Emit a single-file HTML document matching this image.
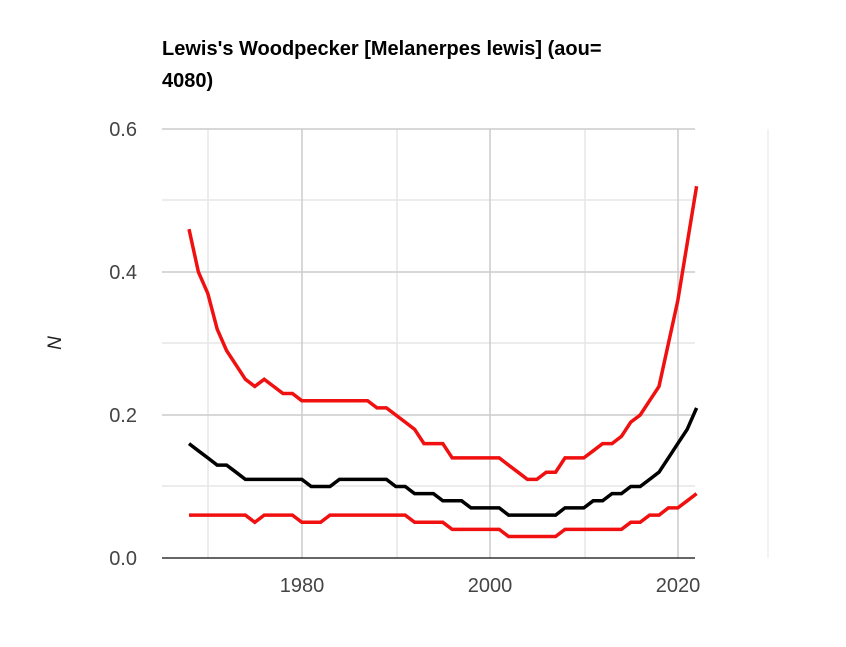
<!DOCTYPE html><html><head><style>body{margin:0;background:#fff;width:846px;height:642px;overflow:hidden;font-family:"Liberation Sans",Arial,sans-serif}</style></head><body>
<svg id="s" width="846" height="642" xmlns="http://www.w3.org/2000/svg">
<text x="162" y="55" font-size="20" font-weight="bold" fill="#000">Lewis's Woodpecker [Melanerpes lewis] (aou=</text>
<text x="162" y="87" font-size="20" font-weight="bold" fill="#000">4080)</text>
<g stroke="#e6e6e6" stroke-width="1.5">
<line x1="162" y1="200" x2="695" y2="200"/><line x1="162" y1="343" x2="695" y2="343"/><line x1="162" y1="486" x2="695" y2="486"/>
<line x1="208" y1="129" x2="208" y2="558"/><line x1="397" y1="129" x2="397" y2="558"/><line x1="585" y1="129" x2="585" y2="558"/>
<line x1="768" y1="129" x2="768" y2="558" stroke="#eee"/>
</g>
<g stroke="#ccc" stroke-width="1.5">
<line x1="162" y1="129" x2="695" y2="129"/><line x1="162" y1="272" x2="695" y2="272"/><line x1="162" y1="415" x2="695" y2="415"/>
<line x1="302" y1="129" x2="302" y2="558"/><line x1="490" y1="129" x2="490" y2="558"/><line x1="678" y1="129" x2="678" y2="558"/>
</g>
<line x1="162" y1="558" x2="695" y2="558" stroke="#333" stroke-width="1.5"/>
<g font-size="20" fill="#444" text-anchor="end">
<text x="137" y="136">0.6</text><text x="137" y="279">0.4</text><text x="137" y="422">0.2</text><text x="137" y="565">0.0</text>
</g>
<g font-size="20" fill="#444" text-anchor="middle">
<text x="302" y="592">1980</text><text x="490" y="592">2000</text><text x="678" y="592">2020</text>
</g>
<text x="0" y="0" font-size="19" font-style="italic" fill="#222" text-anchor="middle" transform="translate(61,343) rotate(-90)">N</text>
<polyline id="u" fill="none" stroke="#f01010" stroke-width="3.5"/>
<polyline id="m" fill="none" stroke="#000" stroke-width="3.5"/>
<polyline id="l" fill="none" stroke="#f01010" stroke-width="3.5"/>
</svg>
<script>
var U=[.46,.40,.37,.32,.29,.27,.25,.24,.25,.24,.23,.23,.22,.22,.22,.22,.22,.22,.22,.22,.21,.21,.20,.19,.18,.16,.16,.16,.14,.14,.14,.14,.14,.14,.13,.12,.11,.11,.12,.12,.14,.14,.14,.15,.16,.16,.17,.19,.20,.22,.24,.30,.36,.44,.52];
var M=[.16,.15,.14,.13,.13,.12,.11,.11,.11,.11,.11,.11,.11,.10,.10,.10,.11,.11,.11,.11,.11,.11,.10,.10,.09,.09,.09,.08,.08,.08,.07,.07,.07,.07,.06,.06,.06,.06,.06,.06,.07,.07,.07,.08,.08,.09,.09,.10,.10,.11,.12,.14,.16,.18,.21];
var L=[.06,.06,.06,.06,.06,.06,.06,.05,.06,.06,.06,.06,.05,.05,.05,.06,.06,.06,.06,.06,.06,.06,.06,.06,.05,.05,.05,.05,.04,.04,.04,.04,.04,.04,.03,.03,.03,.03,.03,.03,.04,.04,.04,.04,.04,.04,.04,.05,.05,.06,.06,.07,.07,.08,.09];
function p(a){return a.map(function(v,i){return (189+i*9.4).toFixed(1)+","+(558-v*715).toFixed(1)}).join(" ")}
document.getElementById("u").setAttribute("points",p(U));
document.getElementById("m").setAttribute("points",p(M));
document.getElementById("l").setAttribute("points",p(L));
</script>
</body></html>
